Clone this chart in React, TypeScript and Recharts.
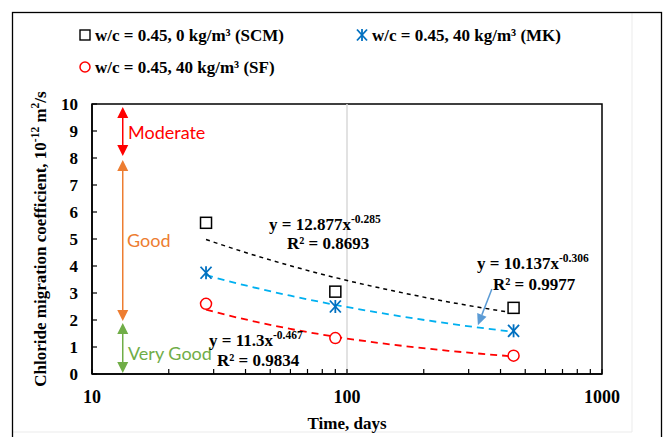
import React from 'react';
import { ComposedChart, XAxis, YAxis, Scatter, Line, ReferenceLine, ReferenceArea } from 'recharts';

// measured points (days, 10^-12 m²/s)
const days = [28, 90, 450];
const scmValues = [5.6, 3.05, 2.45];
const mkValues = [3.75, 2.5, 1.6];
const sfValues = [2.6, 1.33, 0.68];

// trend lines
const trendDays = [28, 40, 60, 90, 150, 250, 450];
const scmTrend = [4.98, 4.5, 4.01, 3.57, 3.09, 2.67, 2.26];
const mkTrend = [3.66, 3.28, 2.9, 2.56, 2.19, 1.87, 1.56];
const sfTrend = [2.38, 2.02, 1.67, 1.38, 1.09, 0.86, 0.65];

const xTicks = [10, 20, 30, 40, 50, 60, 70, 80, 90, 100, 200, 300, 400, 500, 600, 700, 800, 900, 1000];
const xLabelTicks = [10, 100, 1000];
const yTicks = [0, 1, 2, 3, 4, 5, 6, 7, 8, 9, 10];

// quality bands (y ranges) and arrow x position
const bandX = 13.2;
const bandModerate = [9.89, 8.07];
const bandGood = [7.93, 1.96];
const bandVeryGood = [1.89, 0.04];
const pointerFrom = { x: 370, y: 3.15 };
const pointerTo = { x: 326, y: 1.81 };

const toPts = (xs: number[], ys: number[]) => xs.map((x, i) => ({ x, y: ys[i] }));
const scmData = toPts(days, scmValues);
const mkData = toPts(days, mkValues);
const sfData = toPts(days, sfValues);
const scmTrendData = toPts(trendDays, scmTrend);
const mkTrendData = toPts(trendDays, mkTrend);
const sfTrendData = toPts(trendDays, sfTrend);

const SERIF = '"Liberation Serif", "Times New Roman", serif';
const SANS = 'Lato, "Open Sans", sans-serif';

const SquareShape = (p: any) => (
  <rect x={p.cx - 5.5} y={p.cy - 5.5} width={11} height={11} fill="#fff" stroke="#000" strokeWidth={1.5} />
);
const StarShape = (p: any) => (
  <g stroke="#0070C0" strokeWidth={1.8}>
    <line x1={p.cx - 5.5} y1={p.cy - 6} x2={p.cx + 5.5} y2={p.cy + 6} />
    <line x1={p.cx - 5.5} y1={p.cy + 6} x2={p.cx + 5.5} y2={p.cy - 6} />
    <line x1={p.cx} y1={p.cy - 6.5} x2={p.cx} y2={p.cy + 6.5} />
  </g>
);
const CircleShape = (p: any) => (
  <circle cx={p.cx} cy={p.cy} r={5.5} fill="#fff" stroke="#FF0000" strokeWidth={1.5} />
);

const doubleArrow = (color: string) => (p: any) => {
  const { x1, y1, x2, y2 } = p;
  const top = Math.min(y1, y2);
  const bot = Math.max(y1, y2);
  return (
    <g>
      <line x1={x1} x2={x1} y1={top + 9} y2={bot - 9} stroke={color} strokeWidth={1.5} />
      <polygon points={`${x1},${top} ${x1 - 5.5},${top + 11} ${x1 + 5.5},${top + 11}`} fill={color} />
      <polygon points={`${x1},${bot} ${x1 - 5.5},${bot - 11} ${x1 + 5.5},${bot - 11}`} fill={color} />
    </g>
  );
};

const pointerArrow = (p: any) => {
  const { x1, y1, x2, y2 } = p;
  const dx = x2 - x1;
  const dy = y2 - y1;
  const len = Math.sqrt(dx * dx + dy * dy);
  const ux = dx / len;
  const uy = dy / len;
  const hl = 11;
  const hw = 5;
  const bx = x2 - ux * hl;
  const by = y2 - uy * hl;
  return (
    <g>
      <line x1={x1} y1={y1} x2={bx} y2={by} stroke="#5B9BD5" strokeWidth={1.5} />
      <polygon
        points={`${x2},${y2} ${bx - uy * hw},${by + ux * hw} ${bx + uy * hw},${by - ux * hw}`}
        fill="#5B9BD5"
      />
    </g>
  );
};

const XTick = (props: any) => {
  const { x, y, payload } = props;
  const v = payload.value;
  const major = xLabelTicks.includes(v);
  return (
    <g>
      <line x1={x} x2={x} y1={y} y2={y - 5} stroke="#000" strokeWidth={1.2} />
      {major && (
        <text x={x} y={y + 29} textAnchor="middle" fontFamily={SERIF} fontWeight="bold" fontSize={18} fill="#000">
          {v}
        </text>
      )}
    </g>
  );
};

const YTick = (props: any) => {
  const { x, y, payload } = props;
  return (
    <g>
      <line x1={x} x2={x + 5} y1={y} y2={y} stroke="#000" strokeWidth={1.2} />
      <text x={x - 14} y={y + 6} textAnchor="end" fontFamily={SERIF} fontWeight="bold" fontSize={17} fill="#000">
        {payload.value}
      </text>
    </g>
  );
};

const Eq = ({ x, y, base, exp }: { x: number; y: number; base: string; exp: string }) => (
  <text x={x} y={y} fontFamily={SERIF} fontWeight="bold" fontSize={17} fill="#000">
    {base}
    <tspan dy={-7} fontSize={11.5}>{exp}</tspan>
  </text>
);
const R2 = ({ x, y, t }: { x: number; y: number; t: string }) => (
  <text x={x} y={y} fontFamily={SERIF} fontWeight="bold" fontSize={17} fill="#000">
    {t}
  </text>
);

export default function App() {
  return (
    <div style={{ position: 'absolute', left: 0, top: 0, width: 668, height: 437, background: '#fff', overflow: 'hidden' }}>
      <ComposedChart
        width={668}
        height={437}
        margin={{ top: 104, right: 66, bottom: 23, left: 32 }}
      >
        <XAxis
          dataKey="x"
          type="number"
          scale="log"
          domain={[10, 1000]}
          ticks={xTicks}
          interval={0}
          allowDataOverflow
          height={40}
          tickSize={0}
          tickMargin={0}
          tickLine={false}
          axisLine={{ stroke: '#000', strokeWidth: 1.5 }}
          tick={XTick}
        />
        <YAxis
          type="number"
          domain={[0, 10]}
          ticks={yTicks}
          interval={0}
          width={60}
          tickSize={0}
          tickMargin={0}
          tickLine={false}
          axisLine={{ stroke: '#000', strokeWidth: 1.5 }}
          tick={YTick}
        />
        <ReferenceLine x={100} stroke="#D9D9D9" strokeWidth={1.5} />
        <ReferenceArea x1={10} x2={1000} y1={0} y2={10} fill="none" stroke="#000" strokeWidth={1.5} fillOpacity={0} />
        <ReferenceLine
          segment={[{ x: bandX, y: bandModerate[0] }, { x: bandX, y: bandModerate[1] }]}
          shape={doubleArrow('#FF0000')}
        />
        <ReferenceLine
          segment={[{ x: bandX, y: bandGood[0] }, { x: bandX, y: bandGood[1] }]}
          shape={doubleArrow('#ED7D31')}
        />
        <ReferenceLine
          segment={[{ x: bandX, y: bandVeryGood[0] }, { x: bandX, y: bandVeryGood[1] }]}
          shape={doubleArrow('#70AD47')}
        />
        <Line data={scmTrendData} dataKey="y" type="monotone" stroke="#000" strokeWidth={1.5} strokeDasharray="4 4" dot={false} isAnimationActive={false} />
        <Line data={mkTrendData} dataKey="y" type="monotone" stroke="#00B0F0" strokeWidth={1.8} strokeDasharray="7 5" dot={false} isAnimationActive={false} />
        <Line data={sfTrendData} dataKey="y" type="monotone" stroke="#FF0000" strokeWidth={1.8} strokeDasharray="7 5" dot={false} isAnimationActive={false} />
        <Scatter data={scmData} dataKey="y" shape={SquareShape} isAnimationActive={false} />
        <Scatter data={mkData} dataKey="y" shape={StarShape} isAnimationActive={false} />
        <Scatter data={sfData} dataKey="y" shape={CircleShape} isAnimationActive={false} />
        <ReferenceLine segment={[pointerFrom, pointerTo]} shape={pointerArrow} />
      </ComposedChart>
      <svg width={668} height={437} style={{ position: 'absolute', left: 0, top: 0, pointerEvents: 'none' }}>
        <line x1={632} y1={12} x2={632} y2={432} stroke="#EBEBEB" strokeWidth={1} />
        <line x1={12} y1={432} x2={632} y2={432} stroke="#EBEBEB" strokeWidth={1} />
        <rect x={12.5} y={12.5} width={649} height={440} fill="none" stroke="#000" strokeWidth={1.3} />
        {/* legend */}
        <rect x={80} y={30} width={10} height={10} fill="#fff" stroke="#000" strokeWidth={1.4} />
        <text x={95} y={41} fontFamily={SERIF} fontWeight="bold" fontSize={17} fill="#000">w/c = 0.45, 0 kg/m³ (SCM)</text>
        <g stroke="#0070C0" strokeWidth={1.8}>
          <line x1={357} y1={29.5} x2={367} y2={40.5} />
          <line x1={357} y1={40.5} x2={367} y2={29.5} />
          <line x1={362} y1={29} x2={362} y2={41} />
        </g>
        <text x={372} y={41} fontFamily={SERIF} fontWeight="bold" fontSize={17} fill="#000">w/c = 0.45, 40 kg/m³ (MK)</text>
        <circle cx={85} cy={67} r={5} fill="#fff" stroke="#FF0000" strokeWidth={1.5} />
        <text x={95} y={73} fontFamily={SERIF} fontWeight="bold" fontSize={17} fill="#000">w/c = 0.45, 40 kg/m³ (SF)</text>
        {/* band labels */}
        <text x={128} y={139} fontFamily={SANS} fontSize={18} fill="#FF0000">Moderate</text>
        <text x={127} y={247} fontFamily={SANS} fontSize={18} fill="#ED7D31">Good</text>
        <text x={128} y={360} fontFamily={SANS} fontSize={18} fill="#70AD47">Very Good</text>
        {/* equations */}
        <Eq x={269} y={230} base="y = 12.877x" exp="-0.285" />
        <R2 x={287} y={249} t="R² = 0.8693" />
        <Eq x={477} y={269} base="y = 10.137x" exp="-0.306" />
        <R2 x={493} y={290} t="R² = 0.9977" />
        <Eq x={209} y={346} base="y = 11.3x" exp="-0.467" />
        <R2 x={217} y={366} t="R² = 0.9834" />
        {/* axis titles */}
        <text transform="translate(46,239) rotate(-90)" textAnchor="middle" fontFamily={SERIF} fontWeight="bold" fontSize={17} fill="#000">
          Chloride migration coefficient, 10<tspan dy={-7} fontSize={11.5}>-12</tspan>
          <tspan dy={7}> m</tspan>
          <tspan dy={-7} fontSize={11.5}>2</tspan>
          <tspan dy={7}>/s</tspan>
        </text>
        <text x={347} y={429} textAnchor="middle" fontFamily={SERIF} fontWeight="bold" fontSize={17} fill="#000">Time, days</text>
      </svg>
    </div>
  );
}
